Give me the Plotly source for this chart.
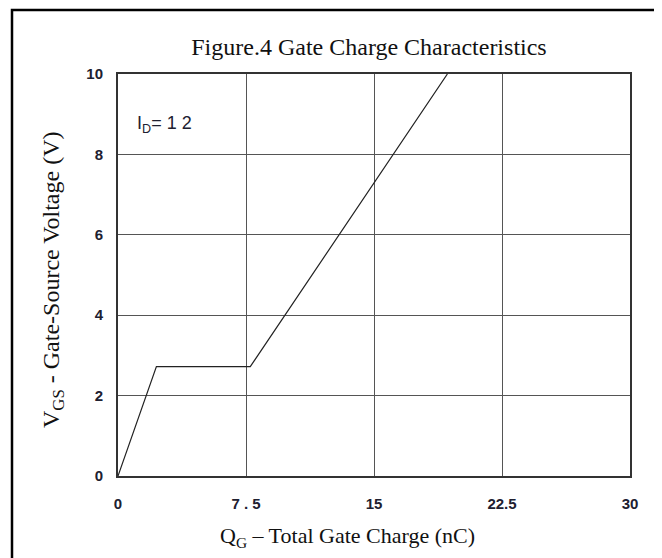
import plotly.graph_objects as go

# Gate charge curve (QG in nC, VGS in V)
qg = [0.0, 2.25, 7.75, 19.3]
vgs = [0.0, 2.72, 2.72, 10.0]

x_tickvals = [0, 7.5, 15, 22.5, 30]
x_ticktext = ["0", "7 . 5", "15", "22.5", "30"]
y_tickvals = [0, 2, 4, 6, 8, 10]
y_ticktext = ["0", "2", "4", "6", "8", "10"]

fig = go.Figure()
fig.add_trace(go.Scatter(x=qg, y=vgs, mode="lines",
                         line=dict(color="#222222", width=1.2),
                         hoverinfo="skip", showlegend=False))

axis_common = dict(showgrid=True, gridcolor="#555555", gridwidth=1,
                   showline=True, linecolor="#333333", linewidth=2, mirror=True,
                   zeroline=False, ticks="",
                   tickfont=dict(family="Liberation Sans, Arial", size=15,
                                 color="#202030", weight="bold"))

fig.update_xaxes(range=[0, 30], tickvals=x_tickvals, ticktext=x_ticktext,
                 ticklabelstandoff=13, **axis_common)
fig.update_yaxes(range=[0, 10], tickvals=y_tickvals, ticktext=y_ticktext,
                 ticklabelstandoff=10, **axis_common)

# plot area in page pixels: x 118..630, y 74..476
PL, PR, PT, PB = 118, 630, 74, 476
def px(xp):
    return (xp - PL) / (PR - PL)
def py(yp):
    return (PB - yp) / (PB - PT)

fig.add_annotation(x=px(347), y=py(537), xref="paper", yref="paper",
                   xanchor="center", yanchor="middle", showarrow=False,
                   text="Q<sub>G</sub> – Total Gate Charge (nC)",
                   font=dict(family="Liberation Serif, Times New Roman", size=22, color="#111"))
fig.add_annotation(x=px(53), y=py(280), xref="paper", yref="paper",
                   xanchor="center", yanchor="middle", showarrow=False, textangle=-90,
                   text="V<sub>GS</sub> - Gate-Source Voltage (V)",
                   font=dict(family="Liberation Serif, Times New Roman", size=24, color="#111"))

fig.add_annotation(x=1.0, y=8.75, xref="x", yref="y", xanchor="left", yanchor="middle",
                   text="I<sub>D</sub>= 1 2", showarrow=False,
                   font=dict(family="Liberation Sans, Arial", size=18, color="#202030"))

# Outer frame (pixel-sized around the plot area)
fig.add_shape(type="rect", xref="paper", yref="paper",
              xsizemode="pixel", ysizemode="pixel", xanchor=0, yanchor=1,
              x0=-106, x1=538, y0=64, y1=-540,
              line=dict(color="#000000", width=2.5), fillcolor="rgba(0,0,0,0)")

W, H = 654, 550
fig.update_layout(
    width=W, height=H,
    margin=dict(l=110, r=32, t=66, b=82),
    paper_bgcolor="white", plot_bgcolor="white",
    title=dict(text="Figure.4 Gate Charge Characteristics",
               x=(369 - 8) / W, xanchor="center", y=1 - (47 - 8) / H, yanchor="middle",
               font=dict(family="Liberation Serif, Times New Roman", size=24, color="#111")),
)

fig.write_html("out.html")
